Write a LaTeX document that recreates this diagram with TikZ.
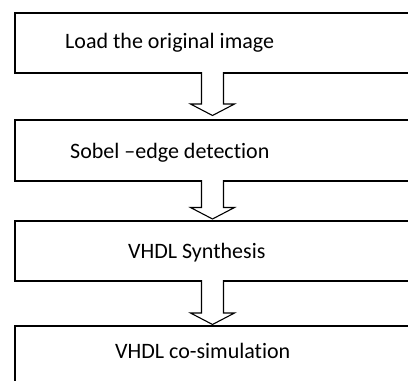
\documentclass[tikz,border=0pt]{standalone}
\usepackage{fontspec}
\setmainfont{Carlito}[Ligatures=NoCommon]
\usetikzlibrary{calc}
\tikzset{
  stepbox/.style={draw=black, line width=1.7pt, rectangle, anchor=north west,
    minimum width=410pt, minimum height=60pt, inner sep=0pt},
  lbl/.style={anchor=base west, inner sep=0pt, font=\fontsize{22}{26}\selectfont},
  blockarr/.style={draw=black, line width=1.1pt, fill=white, line join=miter}
}
\newcommand\BlockArrow[2]{%
  \draw[blockarr] ($(#1)+(-11,0)$) -- ($(#2)+(-11,-11.5)$) -- ($(#2)+(-22,-11.5)$) -- (#2)
    -- ($(#2)+(22,-11.5)$) -- ($(#2)+(11,-11.5)$) -- ($(#1)+(11,0)$);}
\begin{document}
\begin{tikzpicture}[x=1pt,y=-1pt]
\useasboundingbox (0,0) rectangle (408,381);
\clip (0,0) rectangle (408,381);
\node[stepbox] (b1) at (14,12) {};
\node[stepbox, minimum height=61pt] (b2) at (14,119) {};
\node[stepbox] (b3) at (14,220) {};
\node[stepbox, minimum height=61pt] (b4) at (14,325) {};
\node[lbl] (t1) at (65,48.3) {Load the original image};
\node[lbl] (t2) at (70,158) {Sobel –edge detection};
\node[lbl] (t3) at (128,258) {VHDL Synthesis};
\node[lbl] (t4) at (115,358) {VHDL co-simulation};
\coordinate (s1) at (212.5,72);
\coordinate (e1) at (212.5,115.5);
\coordinate (s2) at (212.5,180);
\coordinate (e2) at (212.5,219);
\coordinate (s3) at (212.5,280);
\coordinate (e3) at (212.5,324.5);
\BlockArrow{s1}{e1}
\BlockArrow{s2}{e2}
\BlockArrow{s3}{e3}
\end{tikzpicture}
\end{document}
